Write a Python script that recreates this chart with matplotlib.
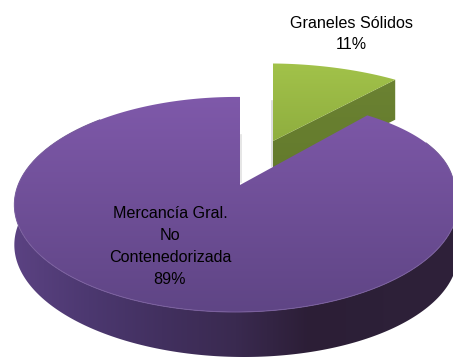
import numpy as np
import matplotlib
matplotlib.use('Agg')
import matplotlib.pyplot as plt
from matplotlib.patches import Polygon
from matplotlib.colors import LinearSegmentedColormap

# Data
categories = ['Graneles Sólidos', 'Mercancía Gral.\nNo\nContenedorizada']
shares = [11, 89]

plt.rcParams['font.family'] = ['Liberation Sans Narrow', 'Liberation Sans', 'DejaVu Sans']

W, H = 453, 357
PERSP_Y = 0.181    # perspective of the tilted disc
PERSP_X = 0.0175
BULGE = 0.11       # upper right of the disc leans out a little
RX, RY = 218, 104


def disc_point(t, apex, sx=1.0, sy=1.0):
    """Project angle t (clockwise from 12 o'clock) of the unit disc to pixels"""
    u, v = np.sin(t), np.cos(t)
    d = 1 + PERSP_Y * v + PERSP_X * u
    lean = 1 + BULGE * np.clip(u, 0, None) * np.clip(v, 0, None)
    return apex[0] + sx * RX * u * lean / d, apex[1] - sy * RY * v / d


def gradient(ax, patch, colors, vertical=True):
    """Fill the bounding box with a gradient and clip it to the patch"""
    ax.add_patch(patch)
    xy = patch.get_xy()
    cmap = LinearSegmentedColormap.from_list('g', colors)
    ramp = np.linspace(0, 1, 256)
    img = ramp[:, None] if vertical else ramp[None, :]
    im = ax.imshow(img, cmap=cmap, aspect='auto', interpolation='bilinear',
                   extent=(xy[:, 0].min(), xy[:, 0].max(), xy[:, 1].max(), xy[:, 1].min()))
    im.set_clip_path(patch)


fig = plt.figure(figsize=(W / 100, H / 100), dpi=100)
ax = fig.add_axes([0, 0, 1, 1])

sweep = 2 * np.pi * shares[0] / sum(shares)

# Soft shadows along the cut faces
apex_g = (273, 141)
apex_p = (240, 185)
ax.plot([apex_g[0] - 1, apex_g[0] - 1], [apex_g[1] - 40, apex_g[1] + 25], color='#d8d8d8', lw=1.2)
ax.plot([apex_p[0] + 1, apex_p[0] + 1], [apex_p[1] - 50, apex_p[1] - 3], color='#e2e2e2', lw=1.2)

# Green slice, pulled out of the pie
tg = np.linspace(0, sweep, 60)
gx, gy = disc_point(tg, apex_g, 0.96, 0.88)
inner = Polygon([(apex_g[0], apex_g[1]), (gx[-1], gy[-1]), (gx[-1], gy[-1] + 40),
                 (apex_g[0], apex_g[1] + 40)], closed=True, fc='none', ec='none')
gradient(ax, inner, ['#6b8232', '#637a2c'])
top_g = Polygon(np.vstack([[apex_g], np.column_stack([gx, gy])]), closed=True, fc='none', ec='none')
gradient(ax, top_g, ['#a2c24a', '#8fae3f'])

# Purple slice: side wall, then top face
tp = np.linspace(sweep, 2 * np.pi, 400)
px, py = disc_point(tp, apex_p)
low = (tp > np.pi * 0.35) & (tp < np.pi * 1.75)
depth = 45 + 5 * np.sin(tp[low])
wall = Polygon(np.vstack([np.column_stack([px[low], py[low]]),
                          np.column_stack([px[low], py[low] + depth])[::-1]]),
               closed=True, fc='none', ec='none')
gradient(ax, wall, ['#5b4282', '#4c3870', '#42305f', '#3a2a50', '#2c1e36', '#2d2038', '#2f213a'],
         vertical=False)
top_p = Polygon(np.vstack([[apex_p], np.column_stack([px, py])]), closed=True, fc='none', ec='none')
gradient(ax, top_p, ['#7f59aa', '#5f4585'])
ax.plot(px[low], py[low], color='#7a5f9e', lw=0.7)

# Labels
ax.text(351, 34, f'{categories[0]}\n{shares[0]}%', ha='center', va='center',
        fontsize=11.6, color='black', linespacing=1.58)
ax.text(170, 246.5, f'{categories[1]}\n{shares[1]}%', ha='center', va='center',
        fontsize=11.6, color='black', linespacing=1.58)

ax.set_xlim(0, W)
ax.set_ylim(H, 0)
ax.axis('off')
fig.savefig('out.png', dpi=100)
